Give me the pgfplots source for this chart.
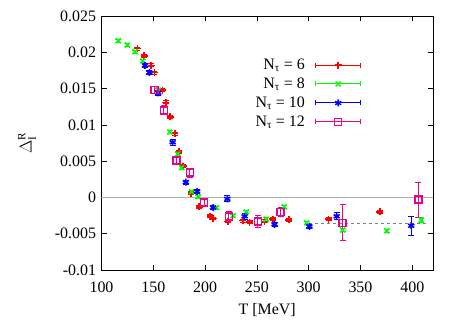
\documentclass[border=0pt]{standalone}
\usepackage{fontspec}
\setmainfont{Liberation Serif}
\usepackage{pgfplots}
\pgfplotsset{compat=1.18}
\pgfplotstableread{
T v e
134.6 0.0205 0.0002
141.1 0.0195 0.0002
147.8 0.0182 0.0002
151.0 0.0172 0.0002
158.7 0.0148 0.0002
162.2 0.0131 0.0002
166.3 0.0111 0.0002
170.9 0.0088 0.0002
174.7 0.0063 0.0002
178.8 0.0043 0.0002
186.5 0.0006 0.0002
194.2 -0.0013 0.0002
205.0 -0.0026 0.0002
207.7 -0.0029 0.0002
222.0 -0.0033 0.0002
236.5 -0.0032 0.0002
243.0 -0.0034 0.0002
257.4 -0.0033 0.0002
265.4 -0.0030 0.0002
280.8 -0.0031 0.0002
319.2 -0.0030 0.0002
368.7 -0.0020 0.0002
}\nsix
\pgfplotstableread{
T v e
116.3 0.0216 0.0002
125.0 0.0210 0.0002
132.4 0.0201 0.0002
139.8 0.0188 0.0002
154.8 0.0148 0.0002
166.0 0.0090 0.0002
173.4 0.0060 0.0002
177.3 0.0041 0.0002
187.0 0.0008 0.0002
193.3 0.0001 0.0002
211.0 -0.0014 0.0002
227.0 -0.0025 0.0002
239.8 -0.0020 0.0002
259.0 -0.0030 0.0002
276.6 -0.0013 0.0002
298.0 -0.0035 0.0002
332.7 -0.0045 0.0002
375.4 -0.0046 0.0002
408.7 -0.0031 0.0003
}\neight
\pgfplotstableread{
T v e
142.0 0.0182 0.0003
146.2 0.0172 0.0003
154.8 0.0144 0.0003
168.7 0.0076 0.0004
181.4 0.0021 0.0003
192.3 0.0008 0.0003
207.7 -0.0014 0.0003
221.5 -0.0002 0.0004
238.2 -0.0026 0.0004
267.0 -0.0037 0.0003
300.7 -0.0040 0.0003
327.0 -0.0026 0.0005
399.0 -0.0039 0.0013
}\nten
\pgfplotstableread{
T v e
151.0 0.0148 0.0005
160.3 0.0120 0.0006
172.5 0.0051 0.0006
185.3 0.0034 0.0006
199.0 -0.0007 0.0006
223.0 -0.0026 0.0006
251.0 -0.0033 0.0008
272.8 -0.0020 0.0006
332.7 -0.0035 0.0025
405.8 -0.0003 0.0024
}\ntwelve
\newcommand\legimg[1]{%
  \path (0bp,0bp);%
  \draw[#1, line width=1bp] (8bp,0bp) -- (53bp,0bp) (8bp,-2.5bp) -- (8bp,2.5bp) (53bp,-2.5bp) -- (53bp,2.5bp);%
}
\begin{document}
\fontsize{16}{19}\selectfont
\begin{tikzpicture}
\begin{axis}[
  at={(0,0)}, anchor=south west,
  scale only axis, width=331.5bp, height=254bp,
  xmin=100, xmax=420, ymin=-0.01, ymax=0.025,
  scaled y ticks=false, scaled x ticks=false,
  xtick={100,150,200,250,300,350,400},
  xticklabels={100,150,200,250,300,350,400},
  ytick={-0.01,-0.005,0,0.005,0.01,0.015,0.02,0.025},
  yticklabels={-0.01,-0.005,0,0.005,0.01,0.015,0.02,0.025},
  tick align=inside, major tick length=5bp,
  tick style={black, line width=0.6bp},
  axis line style={line width=0.8bp},
  xticklabel style={yshift=-6bp},
  xlabel={T [MeV]}, ylabel={$\Delta^{\mathrm{R}}_{\mathrm{I}}$},
  xlabel style={yshift=-0.5bp},
  ylabel style={yshift=8bp},
  every axis plot/.append style={line width=1.6bp},
  legend plot pos=right,
  legend cell align=right,
  legend style={draw=none, fill=none, at={(rel axis cs:0.787,0.845)}, anchor=north east,
    row sep=2bp, inner sep=1bp},
]
\addplot[gray!60, line width=1.2bp, forget plot] coordinates {(100,0) (420,0)};
\addplot[gray, line width=0.8bp, dash pattern=on 3bp off 3bp, forget plot] coordinates {(300,-0.0036) (413,-0.0036)};
\addplot[color=red, draw=red, only marks, mark=+, mark size=3.5bp,
  legend image code/.code={\legimg{red}\draw[red, line width=1.4bp, only marks, mark=+, mark size=3.5bp] plot coordinates {(30.5bp,0bp)};},
  error bars/.cd, y dir=both, y explicit, error bar style={red, line width=1bp},
  error mark options={red, rotate=90, mark size=3bp, line width=1bp}]
  table[x=T, y=v, y error=e] {\nsix};
\addlegendentry{N\textsubscript{τ} = 6}
\addplot[color=green, draw=green, only marks, mark=x, mark size=3.5bp,
  legend image code/.code={\legimg{green}\draw[green, line width=1.4bp, only marks, mark=x, mark size=3.5bp] plot coordinates {(30.5bp,0bp)};},
  error bars/.cd, y dir=both, y explicit, error bar style={green, line width=1bp},
  error mark options={green, rotate=90, mark size=3bp, line width=1bp}]
  table[x=T, y=v, y error=e] {\neight};
\addlegendentry{N\textsubscript{τ} = 8}
\addplot[color=blue, draw=blue, only marks, mark=asterisk, mark size=3.5bp,
  legend image code/.code={\legimg{blue}\draw[blue, line width=1.4bp, only marks, mark=asterisk, mark size=3.5bp] plot coordinates {(30.5bp,0bp)};},
  error bars/.cd, y dir=both, y explicit, error bar style={blue, line width=1bp},
  error mark options={blue, rotate=90, mark size=3bp, line width=1bp}]
  table[x=T, y=v, y error=e] {\nten};
\addlegendentry{N\textsubscript{τ} = 10}
\addplot[color=magenta, draw=magenta, only marks, mark=square, mark size=3.5bp,
  legend image code/.code={\legimg{magenta}\draw[magenta, line width=1.4bp, only marks, mark=square, mark size=3.5bp] plot coordinates {(30.5bp,0bp)};},
  error bars/.cd, y dir=both, y explicit, error bar style={magenta, line width=1bp},
  error mark options={magenta, rotate=90, mark size=3bp, line width=1bp}]
  table[x=T, y=v, y error=e] {\ntwelve};
\addlegendentry{N\textsubscript{τ} = 12}
\end{axis}
\pgfresetboundingbox
\path (-101.5bp,-54bp) rectangle (361.5bp,270bp);
\end{tikzpicture}
\end{document}
